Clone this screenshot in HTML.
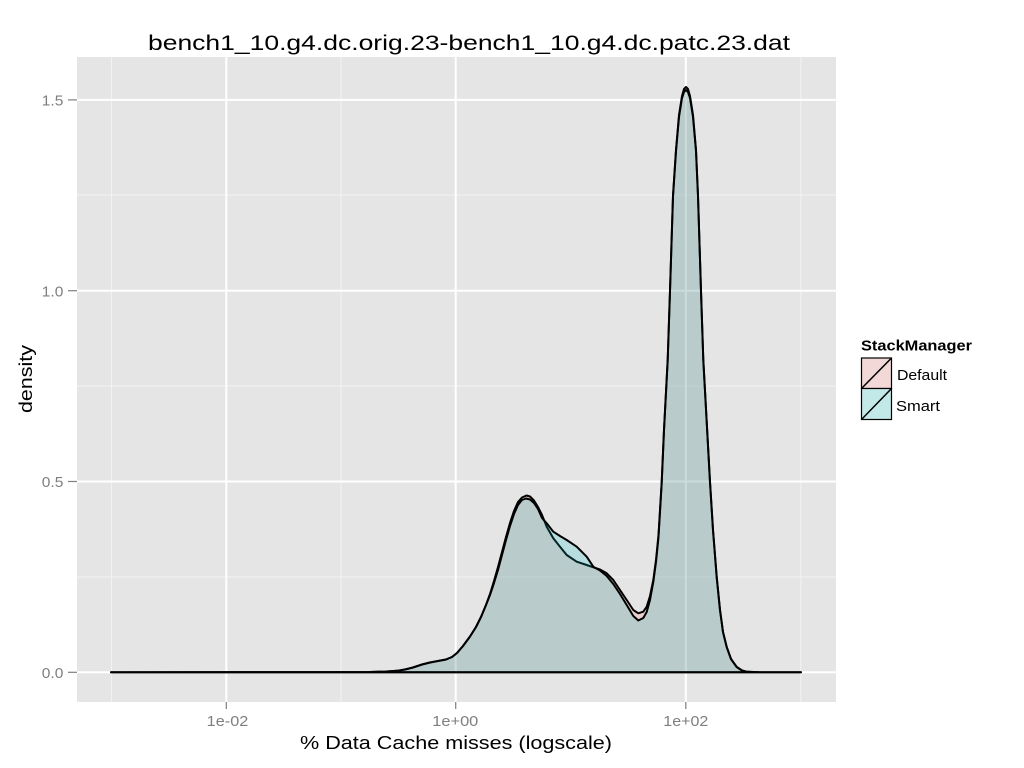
<!DOCTYPE html>
<html><head><meta charset="utf-8"><style>
html,body{margin:0;padding:0;background:#fff;}
svg{display:block;}
text{font-family:"Liberation Sans","DejaVu Sans",sans-serif;}
</style></head><body>
<svg width="1024" height="768" viewBox="0 0 1024 768" xmlns="http://www.w3.org/2000/svg">
<rect x="0" y="0" width="1024" height="768" fill="#ffffff"/>
<rect x="77" y="57" width="759" height="645" fill="#E5E5E5"/>
<!-- minor grid -->
<g stroke="#F2F2F2" stroke-width="1">
<line x1="77" x2="836" y1="577" y2="577"/>
<line x1="77" x2="836" y1="386" y2="386"/>
<line x1="77" x2="836" y1="195" y2="195"/>
<line x1="111.5" x2="111.5" y1="57" y2="702"/>
<line x1="341" x2="341" y1="57" y2="702"/>
<line x1="800.8" x2="800.8" y1="57" y2="702"/>
</g>
<!-- major grid -->
<g stroke="#FFFFFF" stroke-width="2">
<line x1="77" x2="836" y1="672.3" y2="672.3"/>
<line x1="77" x2="836" y1="481.5" y2="481.5"/>
<line x1="77" x2="836" y1="290.7" y2="290.7"/>
<line x1="77" x2="836" y1="99.9" y2="99.9"/>
<line x1="226.3" x2="226.3" y1="57" y2="702"/>
<line x1="455.7" x2="455.7" y1="57" y2="702"/>
<line x1="685.8" x2="685.8" y1="57" y2="702"/>
</g>
<!-- Default -->
<path fill="#F8766D" fill-opacity="0.2" stroke="#000" stroke-width="2" stroke-linejoin="round" d="M111,672.3 L370,672 L385,671.6 L397,670.8 L405,669.5 L413,667.5 L422,664.5 L430,662.5 L438,661 L446,659.5 L452,657 L457,653 L463,646 L470,636.5 L476,627 L481,617 L486,605 L490,594 L494,581 L498,567 L502,552 L506,537 L510,523 L514,511 L518,502 L522,497.5 L526.5,495.5 L530,496.5 L534,500.5 L538,507 L542,515 L546.7,526.7 L553.3,538.3 L560,546.7 L566.7,555 L576.7,561.7 L586.7,565 L593.3,567.3 L600,569.5 L606.7,573.3 L613.3,580 L620,590 L626.7,600 L633.3,610 L638.3,613.3 L643.3,611.7 L646.7,606.7 L650,596 L653.3,580 L656,560 L658.5,535 L661.7,482 L664,430 L667.7,360 L670,291 L673,196 L676,150 L679,115 L682,96 L684,89 L686,87 L688,89 L690,96 L693,115 L696,150 L698,196 L701,291 L703.3,360 L705.5,400 L710,482 L713,530 L716.7,577 L720,610 L723,632 L726.7,647 L731,659 L736.7,667 L742,670.5 L747,671.8 L760,672.3 L801,672.3 Z"/>
<!-- Smart -->
<path fill="#00BFC4" fill-opacity="0.2" stroke="#000" stroke-width="2" stroke-linejoin="round" d="M111,672.3 L370,672 L385,671.6 L397,670.8 L405,669.5 L413,667.5 L422,664.5 L430,662.5 L438,661 L446,659.5 L452,657 L457,653 L463,646 L470,636.5 L476,627 L481,617 L486,605 L490,595 L494,583 L498,570 L502,555 L506,540 L510,526 L514,514 L518,505 L522,500 L526,498.5 L530,499.5 L534,503 L538,509 L542,518 L546.7,523.3 L553.3,531.7 L560,536 L566.7,540 L576.7,546.7 L586.7,556.7 L593.3,566.7 L600,570.5 L606.7,576 L613.3,584 L620,594 L626.7,605 L633.3,616 L638.3,620.5 L643.3,618 L646.7,612 L650,600 L653.3,582 L656,562 L658.5,537 L661.7,483 L664,430 L667.7,360 L670,291 L673,196 L676,151 L679,117 L682,98 L684,92 L686,90 L688,92 L690,98 L693,117 L696,151 L698,196 L701,291 L703.3,360 L705.5,400 L710,482 L713,530 L716.7,577 L720,610 L723,632 L726.7,647 L731,659 L736.7,667 L742,670.5 L747,671.8 L760,672.3 L801,672.3 Z"/>
<!-- ticks -->
<g stroke="#7F7F7F" stroke-width="1.2">
<line x1="68" x2="77" y1="672.3" y2="672.3"/>
<line x1="68" x2="77" y1="481.5" y2="481.5"/>
<line x1="68" x2="77" y1="290.7" y2="290.7"/>
<line x1="68" x2="77" y1="99.9" y2="99.9"/>
<line x1="226.3" x2="226.3" y1="702" y2="709"/>
<line x1="455.7" x2="455.7" y1="702" y2="709"/>
<line x1="685.8" x2="685.8" y1="702" y2="709"/>
</g>
<g fill="#7F7F7F" font-size="15">
<text x="41.8" y="678" textLength="21.6" lengthAdjust="spacingAndGlyphs">0.0</text>
<text x="41.8" y="487.2" textLength="21.6" lengthAdjust="spacingAndGlyphs">0.5</text>
<text x="41.8" y="296.4" textLength="21.6" lengthAdjust="spacingAndGlyphs">1.0</text>
<text x="41.8" y="105.6" textLength="21.6" lengthAdjust="spacingAndGlyphs">1.5</text>
</g>
<g fill="#7F7F7F" font-size="15">
<text x="206.7" y="726" textLength="41.6" lengthAdjust="spacingAndGlyphs">1e-02</text>
<text x="432.3" y="726" textLength="46" lengthAdjust="spacingAndGlyphs">1e+00</text>
<text x="663.3" y="726" textLength="45" lengthAdjust="spacingAndGlyphs">1e+02</text>
</g>
<text x="456" y="749" font-size="18" text-anchor="middle" fill="#000" textLength="312" lengthAdjust="spacingAndGlyphs">% Data Cache misses (logscale)</text>
<text transform="translate(32,379) rotate(-90)" font-size="18" text-anchor="middle" fill="#000" textLength="68" lengthAdjust="spacingAndGlyphs">density</text>
<text x="469" y="50" font-size="21" text-anchor="middle" fill="#000" textLength="642" lengthAdjust="spacingAndGlyphs">bench1_10.g4.dc.orig.23-bench1_10.g4.dc.patc.23.dat</text>
<!-- legend -->
<text x="861" y="350.5" font-size="15" font-weight="bold" fill="#000" textLength="111" lengthAdjust="spacingAndGlyphs">StackManager</text>
<rect x="861.5" y="358" width="30" height="30.5" fill="#F2D8D7" stroke="#000" stroke-width="1.2"/>
<line x1="861.5" y1="388.5" x2="891.5" y2="358" stroke="#000" stroke-width="1.5"/>
<rect x="861.5" y="388.5" width="30" height="31" fill="#C3E8E8" stroke="#000" stroke-width="1.2"/>
<line x1="861.5" y1="419.5" x2="891.5" y2="388.5" stroke="#000" stroke-width="1.5"/>
<text x="897" y="380" font-size="15" fill="#000" textLength="50" lengthAdjust="spacingAndGlyphs">Default</text>
<text x="896" y="411" font-size="15" fill="#000" textLength="44" lengthAdjust="spacingAndGlyphs">Smart</text>
</svg>
</body></html>
